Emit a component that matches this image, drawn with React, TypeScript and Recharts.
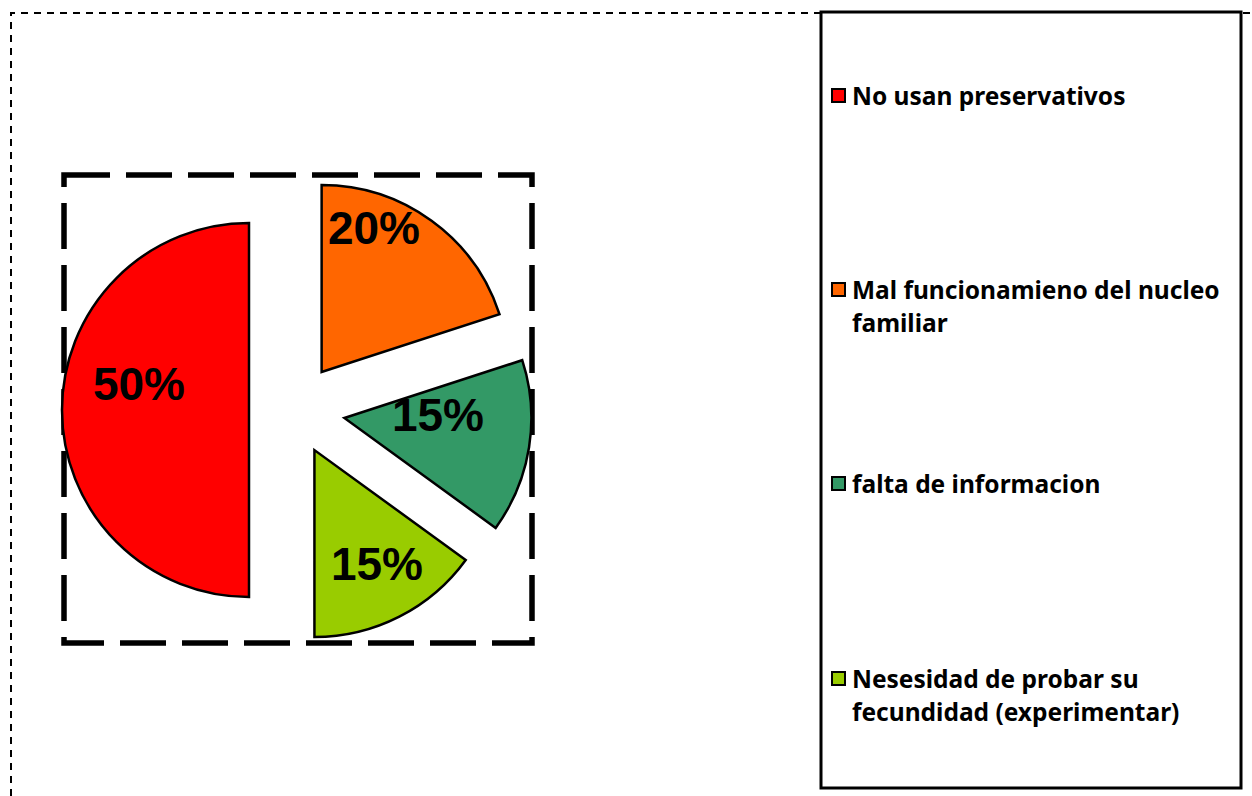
import { Legend, Pie, PieChart, Sector } from "recharts";

const categories = [
  "No usan preservativos",
  "Mal funcionamieno del nucleo familiar",
  "falta de informacion",
  "Nesesidad de probar su fecundidad (experimentar)",
];
const values = [50, 20, 15, 15];
const percentLabels = ["50%", "20%", "15%", "15%"];
const colors = ["#FF0000", "#FF6600", "#339966", "#99CC00"];

const data = categories.map((name, i) => ({
  name,
  value: values[i],
  label: percentLabels[i],
  fill: colors[i],
}));

const RADIAN = Math.PI / 180;
// how far each slice is pulled out from the centre
const explode = [45, 47, 51, 45];
// label baseline offsets from the pie centre
const labelOffsets = [
  [-155, -10],
  [80, -166],
  [144, 21],
  [83, 170],
];
const legendTops = [79, 273, 467, 662];

function ExplodedSlice(props: any) {
  const idx = categories.indexOf(props.name ?? props.payload?.name);
  const d = explode[idx] ?? 46;
  const dx = d * Math.cos(-props.midAngle * RADIAN);
  const dy = d * Math.sin(-props.midAngle * RADIAN);
  return (
    <Sector
      cx={props.cx + dx}
      cy={props.cy + dy}
      innerRadius={props.innerRadius}
      outerRadius={props.outerRadius}
      startAngle={props.startAngle}
      endAngle={props.endAngle}
      fill={props.fill}
      stroke="#000"
      strokeWidth={2.5}
    />
  );
}

function PercentLabel(props: any) {
  const idx = props.index;
  const [ox, oy] = labelOffsets[idx];
  return (
    <text
      x={props.cx + ox}
      y={props.cy + oy}
      textAnchor="middle"
      fill="#000"
      fontFamily="'Liberation Sans', Arial, sans-serif"
      fontWeight="bold"
      fontSize={46}
    >
      {percentLabels[idx]}
    </text>
  );
}

// legend keeps the series order (the library sorts its payload)
function LegendBox() {
  return (
    <div style={{ position: "relative", width: 1252, height: 796 }}>
      {categories.map((name, i) => (
        <div
          key={name}
          style={{
            position: "absolute",
            left: 831,
            top: legendTops[i],
            width: 405,
            display: "flex",
            alignItems: "flex-start",
          }}
        >
          <div
            style={{
              width: 11,
              height: 11,
              marginTop: 9,
              background: colors[i],
              border: "2px solid #000",
              flexShrink: 0,
            }}
          />
          <div
            style={{
              marginLeft: 6,
              width: 385,
              fontFamily: "'Noto Sans', 'Open Sans', sans-serif",
              fontWeight: "bold",
              fontSize: 24.5,
              lineHeight: "33px",
              color: "#000",
              textAlign: "left",
            }}
          >
            {name}
          </div>
        </div>
      ))}
    </div>
  );
}

export default function App() {
  return (
    <div style={{ position: "absolute", left: 0, top: 0, width: 1252, height: 796, background: "#fff" }}>
      <svg width={1252} height={796} style={{ position: "absolute", left: 0, top: 0 }}>
        <path d="M11,796 L11,13 L1252,13" fill="none" stroke="#000" strokeWidth={2} strokeDasharray="7 6" />
        <rect
          x={64}
          y={175}
          width={468}
          height={468}
          fill="none"
          stroke="#000"
          strokeWidth={5.5}
          strokeDasharray="46 16"
        />
        <rect x={821} y={12} width={420} height={776} fill="#fff" stroke="#000" strokeWidth={3} />
      </svg>
      <div style={{ position: "absolute", left: 0, top: 0 }}>
        <PieChart width={1252} height={796} margin={{ top: 0, right: 0, bottom: 0, left: 0 }}>
          <Pie
            data={data}
            dataKey="value"
            nameKey="name"
            cx={294}
            cy={410}
            outerRadius={187}
            startAngle={-90}
            endAngle={-450}
            shape={ExplodedSlice}
            label={PercentLabel}
            labelLine={false}
            isAnimationActive={false}
          />
          <Legend
            content={LegendBox}
            wrapperStyle={{ position: "absolute", left: 0, top: 0, width: 1252, height: 796 }}
          />
        </PieChart>
      </div>
    </div>
  );
}
